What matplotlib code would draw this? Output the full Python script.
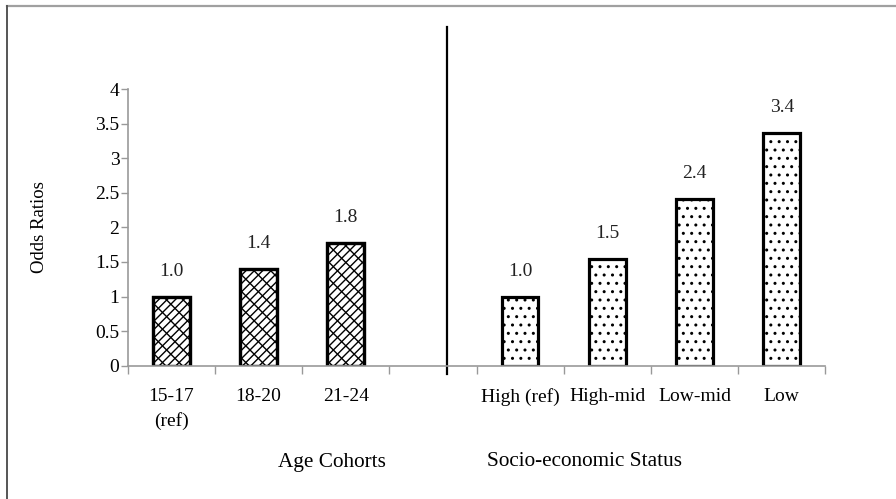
import matplotlib
matplotlib.use("Agg")
import matplotlib.pyplot as plt
from matplotlib.lines import Line2D
from matplotlib.ticker import FuncFormatter

# ---- data ----
age_labels = ["15-17\n(ref)", "18-20", "21-24"]
age_values = [1.0, 1.4, 1.77]
ses_labels = ["High (ref)", "High-mid", "Low-mid", "Low"]
ses_values = [1.0, 1.54, 2.41, 3.36]
y_ticks = [0, 0.5, 1, 1.5, 2, 2.5, 3, 3.5, 4]
group_titles = ["Age Cohorts", "Socio-economic Status"]
y_title = "Odds Ratios"

plt.rcParams['font.family'] = ['Liberation Serif', 'DejaVu Serif']
plt.rcParams['hatch.linewidth'] = 1.0
plt.rcParams['hatch.color'] = 'black'

W, H = 896, 499
fig = plt.figure(figsize=(W / 100, H / 100), dpi=100)
ax = fig.add_axes([127.7 / W, 1 - 365.7 / H, (825.3 - 127.7) / W, (365.7 - 89) / H])

age_x = list(range(len(age_values)))
ses_x = [len(age_values) + 1 + i for i in range(len(ses_values))]
bw = 0.42
fs = 14

ax.bar(age_x, age_values, width=bw, facecolor='white', edgecolor='black',
       linewidth=2.3, hatch='////')
ax.bar(age_x, age_values, width=bw, facecolor='none', edgecolor='black',
       linewidth=2.3, hatch='\\\\')
ax.bar(ses_x, ses_values, width=bw, facecolor='white', edgecolor='black',
       linewidth=2.3, hatch='..')

for x, v in zip(age_x + ses_x, age_values + ses_values):
    ax.annotate(f"{v:.1f}", (x, v), xytext=(0, 17), textcoords='offset pixels',
                ha='center', va='bottom', fontsize=fs, color='#222222')

all_x = list(range(len(age_values) + 1 + len(ses_values)))
all_labels = age_labels + [""] + ses_labels
ax.set_xlim(-0.5, len(all_x) - 0.5)
ax.set_ylim(0, 4)
ax.set_xticks([i - 0.5 for i in all_x] + [len(all_x) - 0.5])
ax.set_xticklabels([])
ax.set_xticks(all_x, minor=True)
ax.set_xticklabels(all_labels, minor=True, fontsize=fs, linespacing=1.5, va='top')
ax.tick_params(axis='x', which='minor', length=0, pad=16)
ax.tick_params(axis='x', which='major', length=6, color='#999999', width=1)
ax.set_yticks(y_ticks)
ax.yaxis.set_major_formatter(FuncFormatter(lambda v, p: f"{v:g}"))
ax.tick_params(axis='y', length=5, color='#999999', width=1, pad=1, labelsize=fs)

for s in ['top', 'right']:
    ax.spines[s].set_visible(False)
for s in ['left', 'bottom']:
    ax.spines[s].set_color('#999999')
    ax.spines[s].set_linewidth(1.2)

ax.set_ylabel(y_title, fontsize=13.5)
ax.yaxis.set_label_coords((48 - 127.7) / (825.3 - 127.7), 0.5)

# divider line between the two groups
ax.plot([3.16, 3.16], [-0.12, 4.9], color='black', linewidth=1.6, clip_on=False)

# group titles
fig.text(331.7 / W, 1 - 462 / H, group_titles[0], ha='center', va='center', fontsize=15.3)
fig.text(584.7 / W, 1 - 462 / H, group_titles[1], ha='center', va='center', fontsize=15.3)

# outer frame (top and left visible)
fig.add_artist(Line2D([7 / W, 1], [1 - 6 / H, 1 - 6 / H], transform=fig.transFigure,
                      color='#a0a0a0', linewidth=1.6))
fig.add_artist(Line2D([7.3 / W, 7.3 / W], [0, 1 - 6 / H], transform=fig.transFigure,
                      color='#555555', linewidth=1.4))

fig.savefig("out.png", dpi=100, facecolor='white')
